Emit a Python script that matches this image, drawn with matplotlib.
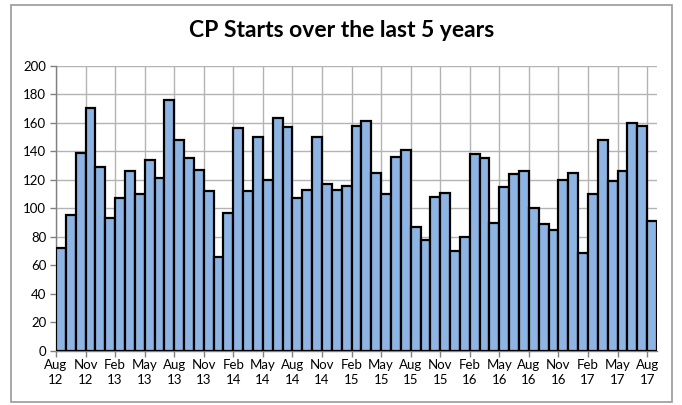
import numpy as np
import matplotlib
matplotlib.use("Agg")
import matplotlib.pyplot as plt
from matplotlib.patches import Rectangle

# monthly CP starts, Aug 2012 .. Aug 2017
starts = [72, 95, 139, 170, 129, 93, 107, 126, 110, 134, 121, 176, 148, 135, 127,
          112, 66, 97, 156, 112, 150, 120, 163, 157, 107, 113, 150, 117, 113, 116,
          158, 161, 125, 110, 136, 141, 87, 78, 108, 111, 70, 80, 138, 135, 90,
          115, 124, 126, 100, 89, 85, 120, 125, 69, 110, 148, 119, 126, 160, 158, 91]
tick_months = ["Aug", "Nov", "Feb", "May"] * 5 + ["Aug"]
tick_years = ["12", "12", "13", "13", "13", "13", "14", "14", "14", "14", "15",
              "15", "15", "15", "16", "16", "16", "16", "17", "17", "17"]

plt.rcParams['font.family'] = ['Lato', 'DejaVu Sans']

fig = plt.figure(figsize=(6.82, 4.05), dpi=100)
fig.patches.append(Rectangle((0.0161, 0.0074), 0.969, 0.980, transform=fig.transFigure,
                             fill=False, edgecolor='#9a9a9a', linewidth=1.2))
ax = fig.add_axes([0.0821, 0.1333, 0.8812, 0.7045])

x = np.arange(len(starts))
ax.bar(x, starts, width=1.0, align='edge', color='#8db4e2', edgecolor='black',
       linewidth=1.6, zorder=3)

ax.set_xlim(0, len(starts))
ax.set_ylim(0, 200)
ax.set_yticks(np.arange(0, 201, 20))
ticks = np.arange(0, len(starts), 3)
ax.set_xticks(ticks)
ax.set_xticklabels([m + "\n" + y for m, y in zip(tick_months, tick_years)],
                   linespacing=1.25)
ax.grid(True, color='#b3b3b3', linewidth=1.0, zorder=0)
ax.set_axisbelow(True)

for s in ['top', 'right']:
    ax.spines[s].set_visible(False)
for s in ['left', 'bottom']:
    ax.spines[s].set_color('#808080')
    ax.spines[s].set_linewidth(1.0)
ax.tick_params(axis='both', colors='#808080', labelcolor='black', labelsize=9.5,
               length=4, width=1.0)
ax.tick_params(axis='x', pad=2)
ax.tick_params(axis='y', pad=3)

fig.text(0.5007, 0.924, "CP Starts over the last 5 years", ha='center', va='center',
         fontsize=16.5, fontweight='bold')

fig.savefig("out.png", dpi=100)
